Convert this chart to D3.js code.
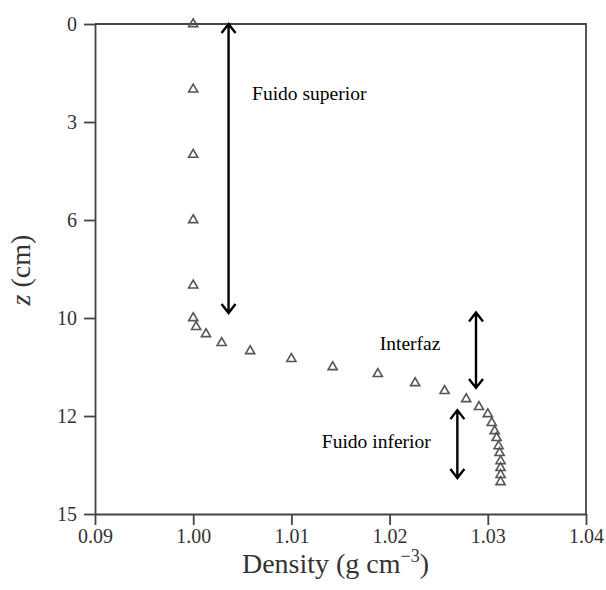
<!DOCTYPE html>
<html>
<head>
<meta charset="utf-8">
<script src="https://cdn.jsdelivr.net/npm/d3@7"></script>
<style>
  body { margin: 0; background: #fff; }
  text { font-family: "Liberation Serif", "Times New Roman", serif; }
</style>
</head>
<body>
<div id="root"></div>
<script>
// density profile (g cm^-3) vs depth z (cm)
const density = [1.0000, 1.0000, 1.0000, 1.0000, 1.0000, 1.0000, 1.0003, 1.0013, 1.0029, 1.0058,
  1.0100, 1.0142, 1.0188, 1.0226, 1.0256, 1.0278, 1.0291, 1.0300, 1.0304, 1.0307,
  1.0309, 1.0311, 1.0312, 1.0313, 1.0313, 1.0313, 1.0313];
const depth = [0, 2, 4, 6, 8, 9.0, 9.27, 9.49, 9.76, 10.01,
  10.25, 10.50, 10.71, 10.99, 11.23, 11.48, 11.72, 11.94, 12.21, 12.46,
  12.67, 12.92, 13.13, 13.38, 13.59, 13.80, 14.02];

const xTicks = [0.99, 1.00, 1.01, 1.02, 1.03, 1.04];
const xTickLabels = ['0.09', '1.00', '1.01', '1.02', '1.03', '1.04'];
const yTicks = [0, 3, 6, 9, 12, 15];
const yTickLabels = ['0', '3', '6', '10', '12', '15'];

// annotations: label, arrow x (density), arrow from/to (z), text pos
const notes = [
  { label: 'Fuido superior', ax: 1.0036, z0: 0, z1: 8.85, tx: 1.0060, tz: 2.33 },
  { label: 'Interfaz', ax: 1.0288, z0: 8.83, z1: 11.14, tx: 1.0190, tz: 9.98 },
  { label: 'Fuido inferior', ax: 1.0269, z0: 11.82, z1: 13.9, tx: 1.0131, tz: 12.98 }
];

const margin = { top: 24, right: 20, bottom: 76, left: 95 };
const width = 606 - margin.left - margin.right;
const height = 590 - margin.top - margin.bottom;

const svg = d3.select('#root')
  .append('svg')
    .attr('width', 606)
    .attr('height', 590)
  .append('g')
    .attr('transform', `translate(${margin.left}, ${margin.top})`);

const xScale = d3.scaleLinear().domain([0.99, 1.04]).range([0, width]);
const yScale = d3.scaleLinear().domain([0, 15]).range([0, height]);

const xAxis = d3.axisBottom(xScale)
  .tickValues(xTicks)
  .tickFormat((d, i) => xTickLabels[i])
  .tickSizeInner(11)
  .tickSizeOuter(0)
  .tickPadding(4);

const yAxis = d3.axisLeft(yScale)
  .tickValues(yTicks)
  .tickFormat((d, i) => yTickLabels[i])
  .tickSizeInner(11)
  .tickSizeOuter(0)
  .tickPadding(7);

const frameColor = '#444';

svg.append('g')
  .attr('transform', `translate(0, ${height})`)
  .call(xAxis)
  .call(g => g.selectAll('text').attr('font-size', 20).attr('fill', '#333'));

svg.append('g')
  .call(yAxis)
  .call(g => g.selectAll('text').attr('font-size', 20).attr('fill', '#333'));

svg.selectAll('.domain, .tick line').attr('stroke', frameColor).attr('stroke-width', 1.8);

// top and right border
svg.append('path')
  .attr('d', `M0,0H${width}V${height}`)
  .attr('fill', 'none')
  .attr('stroke', frameColor)
  .attr('stroke-width', 1.8);

// axis titles
svg.append('text')
  .attr('x', width / 2 - 5)
  .attr('y', height + 59)
  .attr('text-anchor', 'middle')
  .attr('font-size', 28)
  .attr('fill', '#333')
  .html('Density (g cm<tspan dy="-11" font-size="18">\u22123</tspan><tspan dy="11">)</tspan>');

svg.append('text')
  .attr('transform', `translate(${-65}, ${height / 2 + 1}) rotate(-90)`)
  .attr('text-anchor', 'middle')
  .attr('font-size', 28)
  .attr('fill', '#333')
  .html('<tspan font-style="italic">z</tspan> (cm)');

// data points
const points = density.map((d, i) => ({ x: d, z: depth[i] }));
const tri = d3.symbol().type(d3.symbolTriangle).size(36);

svg.selectAll('.pt')
  .data(points)
  .enter().append('path')
    .attr('class', 'pt')
    .attr('d', tri)
    .attr('transform', d => `translate(${xScale(d.x)}, ${yScale(d.z)})`)
    .attr('fill', 'none')
    .attr('stroke', '#555')
    .attr('stroke-width', 1.6);

// double arrows with labels
function arrowPath(x, y0, y1) {
  const w = 7, h = 9;
  return `M${x},${y0}V${y1}` +
    `M${x - w},${y0 + h}L${x},${y0}L${x + w},${y0 + h}` +
    `M${x - w},${y1 - h}L${x},${y1}L${x + w},${y1 - h}`;
}

const note = svg.selectAll('.note')
  .data(notes)
  .enter().append('g')
    .attr('class', 'note');

note.append('path')
  .attr('d', d => arrowPath(xScale(d.ax), yScale(d.z0), yScale(d.z1)))
  .attr('fill', 'none')
  .attr('stroke', '#000')
  .attr('stroke-width', 2.4);

note.append('text')
  .attr('x', d => xScale(d.tx))
  .attr('y', d => yScale(d.tz))
  .attr('font-size', 19.5)
  .attr('fill', '#000')
  .text(d => d.label);
</script>
</body>
</html>
